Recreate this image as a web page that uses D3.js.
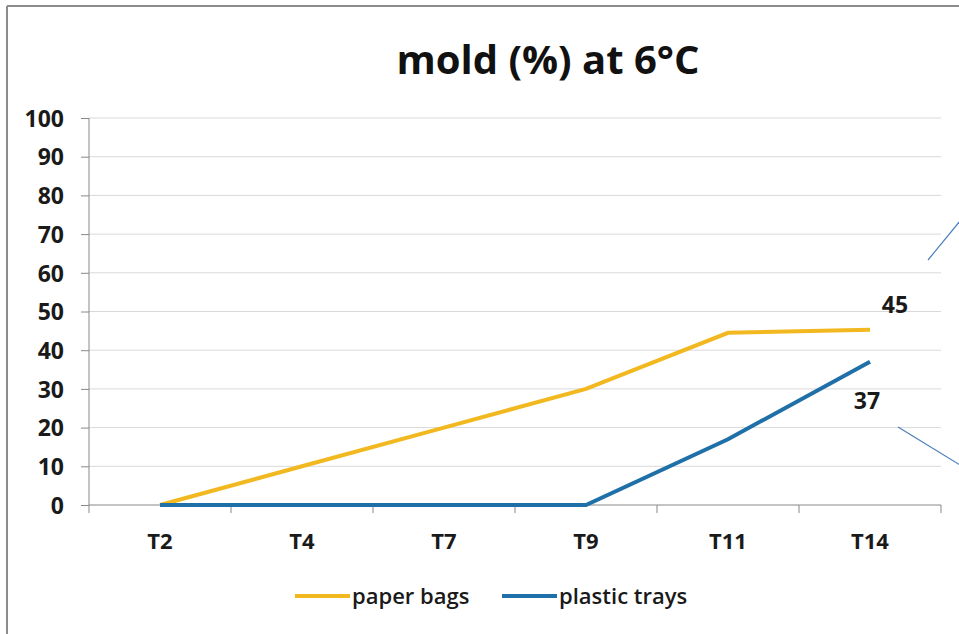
<!DOCTYPE html>
<html>
  <head>
    <meta charset="utf-8" />
    <title>mold (%) at 6°C</title>
    <style>
      body { margin: 0; background: #fff; }
      text { font-family: "Open Sans", "DejaVu Sans", sans-serif; }
    </style>
  </head>
  <body>
  <div id="container"></div>
  <script src="https://cdn.jsdelivr.net/npm/d3@7/dist/d3.min.js"></script>
  <script type="text/javascript">

    var categories = ['T2', 'T4', 'T7', 'T9', 'T11', 'T14'];
    var paperBags = [0, 10, 20, 30, 44.5, 45.3];
    var plasticTrays = [0, 0, 0, 0, 17, 37];
    var yTicks = [0, 10, 20, 30, 40, 50, 60, 70, 80, 90, 100];

    var width = 959;
    var height = 634;

    var svg = d3.select('#container').append('svg')
      .attr('width', width).attr('height', height);

    // chart frame (only top and left edges are visible)
    svg.append('line').attr('x1', 7).attr('y1', 6).attr('x2', width).attr('y2', 6)
      .attr('stroke', '#8c8c8c').attr('stroke-width', 2);
    svg.append('line').attr('x1', 7).attr('y1', 6).attr('x2', 7).attr('y2', height)
      .attr('stroke', '#8c8c8c').attr('stroke-width', 2);

    var x = d3.scaleBand().domain(categories).range([89, 941]);
    var y = d3.scaleLinear().domain([0, 100]).range([505, 118]);

    // gridlines
    svg.append('g').selectAll('line').data(yTicks.slice(1)).enter().append('line')
      .attr('x1', 89).attr('x2', 941)
      .attr('y1', function(d){ return y(d); })
      .attr('y2', function(d){ return y(d); })
      .attr('stroke', '#d9d9d9').attr('stroke-width', 1);

    // y axis
    var yAxis = svg.append('g').attr('transform', 'translate(89,0)')
      .call(d3.axisLeft(y).tickValues(yTicks).tickSize(8).tickPadding(17));
    yAxis.select('.domain').attr('stroke', '#888').attr('d', 'M0,' + y(100) + 'V' + y(0));
    yAxis.selectAll('.tick line').attr('stroke', '#888');
    yAxis.selectAll('text').attr('font-size', 23).attr('font-weight', 'bold')
      .attr('fill', '#1a1a1a').attr('font-family', '"Open Sans", sans-serif')
      .attr('dy', '0.36em');

    // x axis with ticks at band edges
    var xAxis = svg.append('g').attr('transform', 'translate(0,' + y(0) + ')');
    xAxis.append('line').attr('x1', 89).attr('x2', 941).attr('stroke', '#888');
    var edges = categories.map(function(c){ return x(c); }).concat([x.range()[1]]);
    xAxis.selectAll('.edge').data(edges).enter().append('line')
      .attr('x1', function(d){ return d; }).attr('x2', function(d){ return d; })
      .attr('y1', 0).attr('y2', 8).attr('stroke', '#888');
    xAxis.selectAll('.cat').data(categories).enter().append('text')
      .attr('x', function(d){ return x(d) + x.bandwidth() / 2; })
      .attr('y', 44).attr('text-anchor', 'middle')
      .attr('font-size', 22).attr('font-weight', 'bold').attr('fill', '#1a1a1a')
      .text(function(d){ return d; });

    var cx = function(d, i){ return x(categories[i]) + x.bandwidth() / 2; };
    var line = d3.line().x(cx).y(function(d){ return y(d); });

    svg.append('path').datum(paperBags).attr('d', line)
      .attr('fill', 'none').attr('stroke', '#f2b81f').attr('stroke-width', 4);
    svg.append('path').datum(plasticTrays).attr('d', line)
      .attr('fill', 'none').attr('stroke', '#1f6fa8').attr('stroke-width', 4);

    // data labels on the last points
    var last = categories.length - 1;
    svg.append('text').attr('x', cx(null, last) + 25).attr('y', y(paperBags[last]) - 17)
      .attr('text-anchor', 'middle').attr('font-size', 23).attr('font-weight', 'bold')
      .attr('fill', '#1a1a1a').text(Math.round(paperBags[last]));
    svg.append('text').attr('x', cx(null, last) - 3).attr('y', y(plasticTrays[last]) + 47)
      .attr('text-anchor', 'middle').attr('font-size', 23).attr('font-weight', 'bold')
      .attr('fill', '#1a1a1a').text(plasticTrays[last]);

    // stray leader lines at the right edge
    svg.append('line').attr('x1', 928).attr('y1', 260).attr('x2', 960).attr('y2', 221)
      .attr('stroke', '#4a7ebb').attr('stroke-width', 1.2);
    svg.append('line').attr('x1', 898).attr('y1', 427).attr('x2', 960).attr('y2', 465)
      .attr('stroke', '#4a7ebb').attr('stroke-width', 1.2);

    // title
    svg.append('text').attr('x', 548).attr('y', 74).attr('text-anchor', 'middle')
      .attr('font-size', 40).attr('font-weight', 'bold').attr('fill', '#111')
      .text('mold (%) at 6°C');

    // legend
    var legend = [
      {name: 'paper bags', color: '#f2b81f', x: 295},
      {name: 'plastic trays', color: '#1f6fa8', x: 502}
    ];
    var lg = svg.append('g').selectAll('g').data(legend).enter().append('g')
      .attr('transform', function(d){ return 'translate(' + d.x + ',596)'; });
    lg.append('line').attr('x1', 0).attr('x2', 55).attr('stroke', function(d){ return d.color; })
      .attr('stroke-width', 4);
    lg.append('text').attr('x', 57).attr('y', 8).attr('font-size', 22).attr('font-weight', 600)
      .attr('fill', '#1a1a1a').text(function(d){ return d.name; });

  </script>
  </body>
</html>
